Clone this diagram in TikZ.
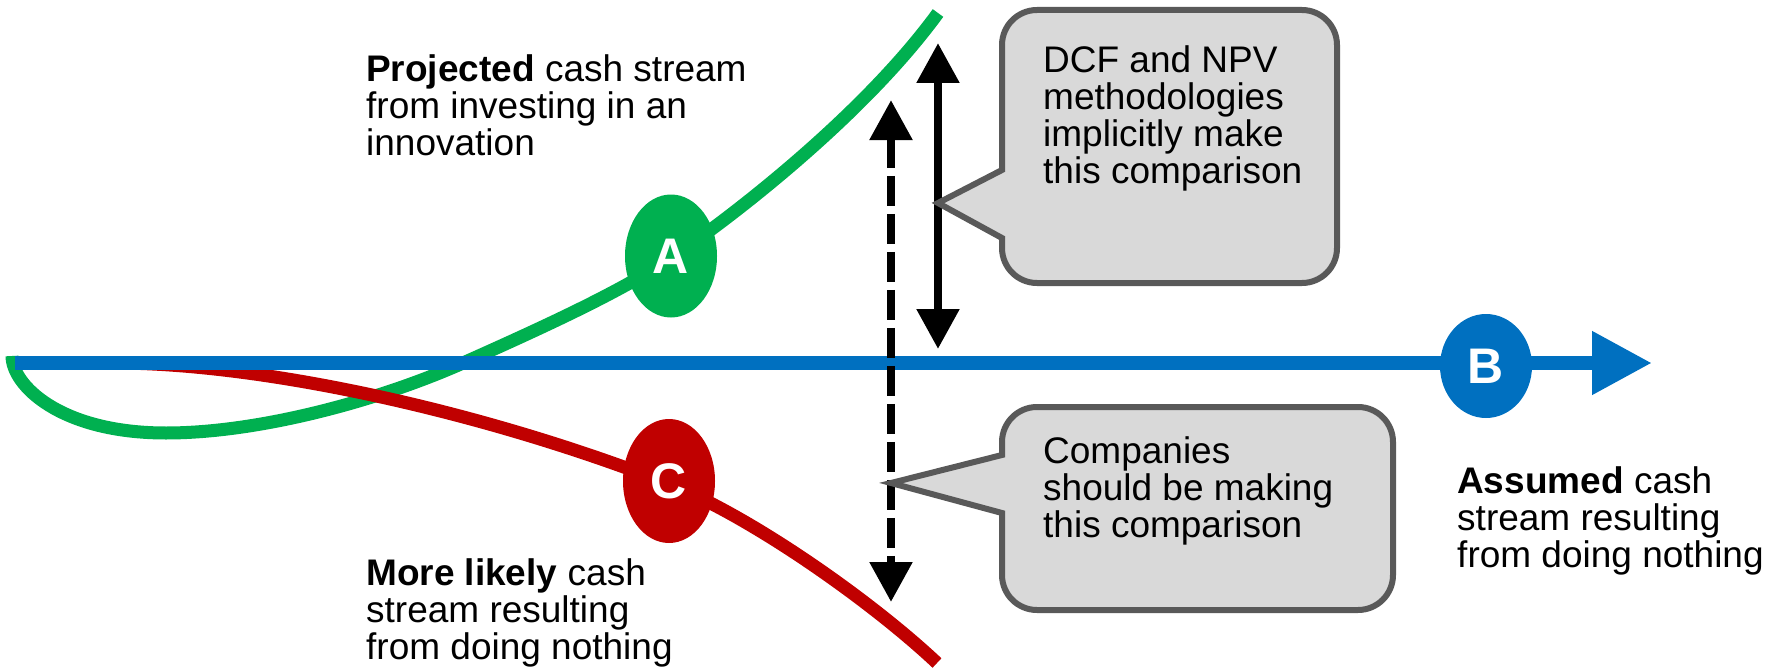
\documentclass[tikz,border=0pt]{standalone}
\usepackage{fontspec}
\setmainfont{Liberation Sans}
\usepackage{xcolor}
\usepackage{tikz}
\usetikzlibrary{positioning,shapes.geometric,arrows.meta}
\definecolor{mygreen}{RGB}{0,176,80}
\definecolor{myred}{RGB}{192,0,0}
\definecolor{myblue}{RGB}{0,112,192}
\definecolor{boxgray}{RGB}{217,217,217}
\definecolor{edgegray}{RGB}{89,89,89}

\begin{document}
\begin{tikzpicture}[x=1pt,y=-1pt,
          letter/.style={ellipse,inner sep=0pt,minimum width=92pt,text=white,
                         font=\fontsize{50}{50}\selectfont\bfseries},
          lbl/.style={anchor=north west,inner sep=0pt,align=left,
                      font=\fontsize{37}{37}\selectfont},
          stream/.style={line width=13pt},
          callbox/.style={fill=boxgray,draw=edgegray,line width=6pt,line join=miter},
          twoway/.style={line width=8.5pt,
                         {Triangle[length=40pt,width=41pt]}-{Triangle[length=40pt,width=41pt]}}
          ]
          \useasboundingbox (0,0) rectangle (1781,669);
          % the projected stream
          \draw[stream,mygreen] (12,356) .. controls (12,385) and (60,433) .. (166,433)
            .. controls (260,433) and (380,400) .. (463,363)
            .. controls (546,326) and (620,292) .. (671,258)
            .. controls (722,224) and (860,120) .. (938,13);
          % the more likely stream
          \draw[stream,myred] (114,363) .. controls (260,363) and (480,410) .. (669,484)
            .. controls (750,516) and (870,600) .. (937,663);
          % the assumed stream
          \coordinate (bstart) at (15,363);
          \coordinate (bend) at (1652,363);
          \draw[myblue,line width=14pt,-{Triangle[length=60pt,width=60pt]}] (bstart) -- (bend);
          % the letters
          \node[letter,fill=mygreen,minimum height=123pt] (A) at (671,256) {A};
          \node[letter,fill=myblue,minimum height=104pt] (B) at (1486,366) {B};
          \node[letter,fill=myred,minimum height=124pt] (C) at (669,481) {C};
          % the comparisons
          \coordinate (s1) at (938,43);
          \coordinate (s2) at (938,349);
          \coordinate (d1) at (891,100);
          \coordinate (d2) at (891,602);
          \draw[twoway] (s1) -- (s2);
          \draw[twoway,dash pattern=on 30pt off 8pt] (d1) -- (d2);
          % the callouts
          \coordinate (tip1) at (938,203);
          \coordinate (tip2) at (891,483);
          \draw[callbox] (1002,170) -- (tip1) -- (1002,238) [rounded corners=35pt] -- (1002,283)
            -- (1337,283) -- (1337,10) -- (1002,10) [sharp corners] -- cycle;
          \draw[callbox] (1002,455) -- (tip2) -- (1002,513) [rounded corners=35pt] -- (1002,610)
            -- (1393,610) -- (1393,407) -- (1002,407) [sharp corners] -- cycle;
          \node[lbl] (dcf) at (1043,45) {DCF and NPV\\methodologies\\implicitly make\\this comparison};
          \node[lbl] (comp) at (1043,436) {Companies\\should be making\\this comparison};
          % the labels
          \node[lbl] (proj) at (366,54) {\textbf{Projected} cash stream\\from investing in an\\innovation};
          \node[lbl] (likely) at (366,558) {\textbf{More likely} cash\\stream resulting\\from doing nothing};
          \node[lbl] (assumed) at (1457,466) {\textbf{Assumed} cash\\stream resulting\\from doing nothing};
        \end{tikzpicture}
\end{document}
